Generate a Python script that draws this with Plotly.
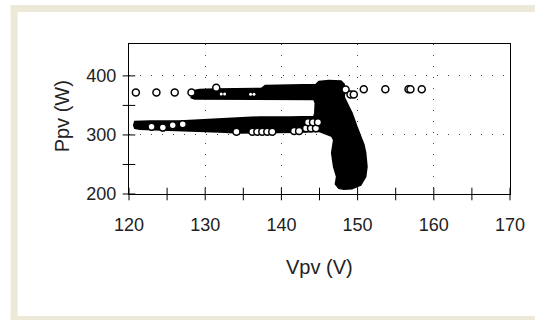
import plotly.graph_objects as go

# Dense operating-point cloud outline (Vpv in V, Ppv in W)
cloud_v = [128.22, 129.27, 131.23, 134.49, 137.36, 137.89, 141.02, 144.54, 144.93, 146.24,
           147.81, 148.20, 148.33, 148.20, 148.72, 149.24, 149.90, 150.38, 150.81, 151.03,
           151.20, 151.03, 150.38, 149.24, 148.20, 147.55, 147.12, 147.28, 146.89, 146.63,
           146.76, 146.89, 146.63, 144.93, 142.32, 138.41, 134.49, 131.88, 129.27, 126.66,
           124.05, 121.44, 120.78, 120.65, 120.78, 122.74, 126.66, 129.27, 133.19, 134.49,
           137.10, 141.02, 144.28, 144.41, 144.48, 144.28, 142.32, 138.41, 134.49, 131.23,
           128.62, 128.09]
cloud_p = [374.1, 376.6, 377.5, 377.5, 378.3, 383.4, 384.2, 385.1, 390.1, 391.8,
           391.0, 385.9, 375.8, 364.4, 350.4, 336.9, 313.2, 296.8, 282.8, 269.3,
           246.1, 229.2, 215.2, 209.3, 208.5, 210.1, 216.9, 229.2, 246.1, 269.3,
           282.8, 291.3, 298.0, 306.5, 304.8, 304.8, 303.9, 305.6, 306.5, 307.3,
           309.0, 309.9, 311.5, 316.6, 322.5, 323.4, 323.4, 325.1, 327.6, 329.3,
           330.1, 330.1, 331.0, 336.9, 353.8, 360.6, 360.6, 361.4, 361.4, 361.4,
           361.4, 363.9]

# Individually visible samples (open circles)
pts_v = [120.9, 123.6, 126.0, 128.2,
         148.42, 149.07, 149.50, 150.81, 153.64, 156.68, 156.94, 158.42,
         131.45,
         122.96, 124.44, 125.74, 127.05,
         134.10, 136.19, 136.84, 137.49, 138.15, 138.80, 141.67, 142.32,
         143.24, 143.89, 144.54, 143.50, 144.15, 144.80]
pts_p = [371.9, 371.9, 371.9, 371.9,
         377.0, 368.5, 368.5, 377.5, 377.5, 377.5, 377.5, 377.5,
         380.0,
         313.7, 312.4, 316.6, 318.3,
         305.6, 305.3, 305.3, 305.3, 305.3, 305.3, 306.5, 306.5,
         311.5, 311.5, 311.5, 321.7, 321.7, 321.7]

# Samples seen only as small holes inside the dense upper band
hole_v = [132.10, 132.55, 135.95, 136.40]
hole_p = [369.5, 369.5, 369.0, 369.0]

x_range = [120, 170]
y_range = [200, 454]
x_tick_vals = [120, 125, 130, 135, 140, 145, 150, 155, 160, 165, 170]
y_tick_vals = [200, 250, 300, 350, 400]
x_title = "Vpv (V)"
y_title = "Ppv (W)"

FONT = "Liberation Sans, Arial, sans-serif"

fig = go.Figure()
fig.add_trace(go.Scatter(x=cloud_v, y=cloud_p, mode="lines", fill="toself",
                         fillcolor="black", line=dict(color="black", width=2),
                         hoverinfo="skip", showlegend=False))
fig.add_trace(go.Scatter(x=hole_v, y=hole_p, mode="markers",
                         marker=dict(symbol="circle", size=3, color="white",
                                     line=dict(width=0)),
                         hoverinfo="skip", showlegend=False))
fig.add_trace(go.Scatter(x=pts_v, y=pts_p, mode="markers",
                         marker=dict(symbol="circle", size=7, color="white",
                                     line=dict(color="black", width=1.5)),
                         showlegend=False))
# crossing tick marks on the axes (drawn as line markers at the tick values)
fig.add_trace(go.Scatter(x=x_tick_vals, y=[y_range[0]] * len(x_tick_vals), mode="markers",
                         marker=dict(symbol="line-ns", size=9, color="black",
                                     line=dict(color="black", width=1)),
                         cliponaxis=False, hoverinfo="skip", showlegend=False))
fig.add_trace(go.Scatter(x=[x_range[0]] * len(y_tick_vals), y=y_tick_vals, mode="markers",
                         marker=dict(symbol="line-ew", size=9, color="black",
                                     line=dict(color="black", width=1)),
                         cliponaxis=False, hoverinfo="skip", showlegend=False))

L, T, W, H = 129, 44, 383, 150
def px_x(p):
    return (p - L) / W
def px_y(p):
    return (T + H - p) / H

beige = "#ECE9D8"
shapes = [
    dict(type="rect", xref="paper", yref="paper", x0=px_x(10), x1=px_x(17), y0=px_y(320), y1=px_y(5),
         fillcolor=beige, line=dict(width=0), layer="below"),
    dict(type="rect", xref="paper", yref="paper", x0=px_x(10), x1=px_x(537), y0=px_y(12), y1=px_y(5),
         fillcolor=beige, line=dict(width=0), layer="below"),
    dict(type="rect", xref="paper", yref="paper", x0=px_x(10), x1=px_x(537), y0=px_y(320), y1=px_y(316),
         fillcolor=beige, line=dict(width=0), layer="below"),
]

tickfont = dict(family=FONT, size=18, color="#222")
common = dict(showline=True, linecolor="black", linewidth=1, mirror=True,
              ticks="",
              showgrid=True, gridcolor="#444", gridwidth=1, griddash="1px,10px",
              zeroline=False, tickfont=tickfont, fixedrange=True)

fig.update_layout(
    width=537, height=320,
    margin=dict(l=L, r=537 - L - W, t=T, b=320 - T - H, pad=0),
    paper_bgcolor="white", plot_bgcolor="white",
    shapes=shapes,
    xaxis=dict(range=x_range, dtick=10, tick0=120, ticklabelstandoff=14, **common),
    yaxis=dict(range=y_range, dtick=100, tick0=200, ticklabelstandoff=8, **common),
    annotations=[
        dict(text=x_title, xref="paper", yref="paper", x=px_x(320), y=px_y(267),
             showarrow=False, xanchor="center", yanchor="middle",
             font=dict(family=FONT, size=20, color="#222")),
        dict(text=y_title, xref="paper", yref="paper", x=px_x(62), y=px_y(116),
             showarrow=False, xanchor="center", yanchor="middle", textangle=-90,
             font=dict(family=FONT, size=20, color="#222")),
    ],
)

fig.write_html("out.html")
